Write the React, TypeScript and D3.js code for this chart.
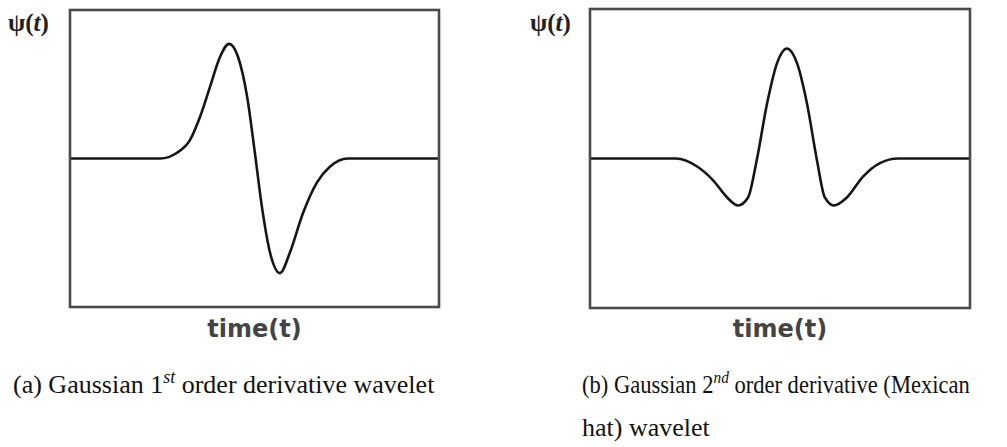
import React from "react";
import * as d3 from "d3";

// Gaussian 1st-derivative wavelet, sampled along the time axis (0–100)
const timeA = [0, 24.5, 29.0, 32.5, 35.2, 37.9, 40.7, 43.1, 45.5, 48.0, 50.1, 52.0, 54.2, 56.9, 59.6, 63.1, 66.9, 70.5, 75.3, 100];
const psiA = [0, 0, 0.05, 0.16, 0.36, 0.62, 0.89, 1.0, 0.89, 0.54, 0.05, -0.42, -0.82, -1.0, -0.82, -0.48, -0.21, -0.07, 0, 0];

// Gaussian 2nd-derivative (Mexican hat) wavelet
const timeB = [0, 22.6, 28.2, 32.4, 36.1, 38.9, 41.6, 43.9, 46.6, 49.2, 51.8, 54.5, 57.1, 59.7, 61.8, 64.2, 67.6, 71.8, 76.3, 81.1, 100];
const psiB = [0, 0, -0.07, -0.19, -0.34, -0.41, -0.34, -0.01, 0.48, 0.83, 0.96, 0.83, 0.48, -0.01, -0.34, -0.41, -0.34, -0.16, -0.04, 0, 0];

const yLabel = "ψ(";
const xLabel = "time(t)";

type PanelProps = {
  left: number; right: number; top: number; bottom: number;
  times: number[]; values: number[];
  yLabelX: number;
};

function Panel({ left, right, top, bottom, times, values, yLabelX }: PanelProps) {
  const x = d3.scaleLinear().domain([0, 100]).range([left, right]);
  const y = d3.scaleLinear().domain([-1.3, 1.3]).range([307.5, 9.5]);
  const pts = times.map((t, i) => [t, values[i]] as [number, number]);
  const path = d3.line<[number, number]>()
    .x(d => x(d[0]))
    .y(d => y(d[1]))
    .curve(d3.curveMonotoneX)(pts) || "";
  return (
    <g>
      <text x={yLabelX} y={31} fontFamily="'Liberation Serif', serif" fontWeight="bold" fontSize={25} fill="#222">
        {yLabel}<tspan fontStyle="italic">t</tspan>)
      </text>
      <path d={path} fill="none" stroke="#161616" strokeWidth={2.6} strokeLinejoin="round" />
      <rect x={left} y={top} width={right - left} height={bottom - top} fill="none" stroke="#4a4a4a" strokeWidth={2.6} />
      <text x={(left + right) / 2} y={337} textAnchor="middle" fontFamily="'DejaVu Sans', Verdana, sans-serif" fontWeight="bold" fontSize={24} fill="#444">
        {xLabel}
      </text>
    </g>
  );
}

export default function App() {
  const cap = { fontFamily: "'Liberation Serif', 'Times New Roman', serif", fontSize: 26, fill: "#111" };
  return (
    <svg width={1007} height={447} style={{ position: "absolute", left: 0, top: 0, display: "block" }}>
      <rect x={0} y={0} width={1007} height={447} fill="#fff" />
      <Panel left={70} right={439} top={10} bottom={307} times={timeA} values={psiA} yLabelX={8} />
      <Panel left={590} right={970} top={9} bottom={308} times={timeB} values={psiB} yLabelX={530} />
      <text x={13} y={393} {...cap}>
        (a) Gaussian 1<tspan fontStyle="italic" fontSize={18} dy={-10}>st</tspan><tspan dy={10}> order derivative wavelet</tspan>
      </text>
      {/* first caption line of (b) is set tight to fit the panel width */}
      <g transform="translate(582 393) scale(0.902 1)">
        <text x={0} y={0} {...cap} fontSize={25}>
          (b) Gaussian 2<tspan fontStyle="italic" fontSize={17} dy={-10}>nd</tspan><tspan dy={10}> order derivative (Mexican</tspan>
        </text>
      </g>
      <text x={582} y={436} {...cap}>hat) wavelet</text>
    </svg>
  );
}
